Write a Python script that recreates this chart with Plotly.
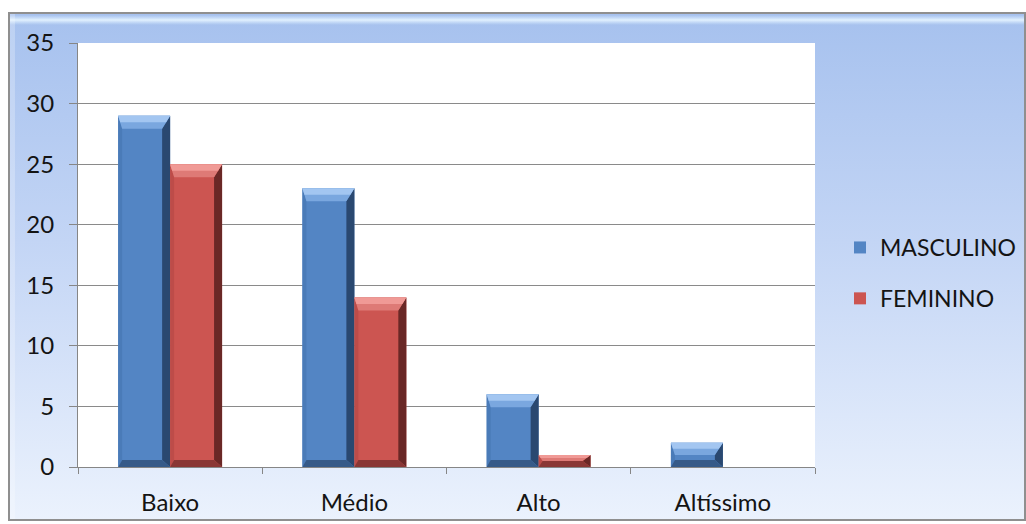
import base64
import plotly.graph_objects as go

# ---- data ----
categories = ["Baixo", "Médio", "Alto", "Altíssimo"]
masculino = [29, 23, 6, 2]
feminino = [25, 14, 1, 0]
series_names = ["MASCULINO", "FEMININO"]

# ---- layout geometry ----
W, H = 1026, 524
M_L, M_R, M_T, M_B = 78, 211, 43, 57
PLOT_W = W - M_L - M_R
PLOT_H = H - M_T - M_B
Y_MAX = 35
BAR_W = 0.282  # width of one bar, in category units
PX_PER_UNIT = PLOT_H / Y_MAX
BAR_PX = BAR_W * PLOT_W / len(categories)

FONT = "Lato"
TXT = "#141414"

styles = {
    "MASCULINO": dict(face="#5385c4", top_out="#a3c6f1", top_in="#7aa7df",
                      left="#4a7bb8", right="#2a4870", bottom="#365a88"),
    "FEMININO": dict(face="#cc5551", top_out="#f09a96", top_in="#de7a76",
                     left="#bd4c49", right="#6a2826", bottom="#8a3735"),
}

# background gradient for the chart frame, as an inline SVG
svg = """<svg xmlns='http://www.w3.org/2000/svg' width='1018' height='508' preserveAspectRatio='none'>
<defs><linearGradient id='g' x1='0' y1='0' x2='0' y2='1'>
<stop offset='0' stop-color='#a6c1ee'/>
<stop offset='0.45' stop-color='#c3d5f5'/>
<stop offset='1' stop-color='#ebf2fd'/>
</linearGradient>
<linearGradient id='h' x1='0' y1='0' x2='0' y2='1'>
<stop offset='0' stop-color='#d6eafd' stop-opacity='0.0'/>
<stop offset='0.5' stop-color='#e2f1fe' stop-opacity='1'/>
<stop offset='1' stop-color='#d6eafd' stop-opacity='0.0'/>
</linearGradient></defs>
<rect width='1018' height='508' fill='url(#g)'/>
<rect x='0' y='2' width='1018' height='10' fill='url(#h)'/>
<rect x='0' y='0' width='6' height='508' fill='#ffffff' fill-opacity='0.25'/>
</svg>"""
bg_uri = "data:image/svg+xml;base64," + base64.b64encode(svg.encode()).decode()

FRAME = dict(x0=9, x1=1025, y0=13, y1=520)


def px_x(px):
    return (px - M_L) / PLOT_W


def px_y(py):
    return (H - M_B - py) / PLOT_H


fig = go.Figure()
for name, vals in zip(series_names, [masculino, feminino]):
    fig.add_trace(go.Bar(
        name=name, x=categories, y=vals, width=BAR_W,
        marker=dict(color=styles[name]["face"], line=dict(width=0)),
    ))


def poly(pts):
    return "M " + " L ".join(f"{x:.2f},{y:.2f}" for x, y in pts) + " Z"


shapes = [
    # chart frame border
    dict(type="rect", xref="paper", yref="paper",
         x0=px_x(FRAME["x0"]), x1=px_x(FRAME["x1"]),
         y0=px_y(FRAME["y1"]), y1=px_y(FRAME["y0"]),
         line=dict(color="#8f8f8f", width=2), fillcolor="rgba(0,0,0,0)", layer="below"),
    # white plotting area
    dict(type="rect", xref="paper", yref="paper", x0=0, x1=1, y0=0, y1=1,
         line=dict(width=0), fillcolor="white", layer="below"),
]

# bevelled faces on each bar, placed from the bar's category and value
for s_idx, (name, vals) in enumerate(zip(series_names, [masculino, feminino])):
    st = styles[name]
    offset = (-0.5 + s_idx) * BAR_W
    for c_idx, v in enumerate(vals):
        if v <= 0:
            continue
        hpx = v * PX_PER_UNIT
        hw = BAR_PX / 2
        dt = min(13, hpx / 2)
        db = min(7, hpx / 2)
        dl = 4
        dr = 8
        faces = [
            (poly([(-hw, 0), (-hw + dl, db), (-hw + dl, hpx - dt), (-hw, hpx)]), st["left"]),
            (poly([(hw, 0), (hw - dr, db), (hw - dr, hpx - dt), (hw, hpx)]), st["right"]),
            (poly([(-hw, 0), (hw, 0), (hw - dr, db), (-hw + dl, db)]), st["bottom"]),
            (poly([(-hw, hpx), (hw, hpx), (hw - dr, hpx - dt), (-hw + dl, hpx - dt)]), st["top_in"]),
            (poly([(-hw, hpx), (hw, hpx), (hw - dr * 0.5, hpx - dt * 0.5),
                   (-hw + dl * 0.5, hpx - dt * 0.5)]), st["top_out"]),
        ]
        for path, col in faces:
            shapes.append(dict(
                type="path", xref="x", yref="y",
                xsizemode="pixel", ysizemode="pixel",
                xanchor=c_idx + offset, yanchor=0,
                path=path, fillcolor=col, line=dict(width=0), layer="above",
            ))

fig.update_layout(
    width=W, height=H,
    margin=dict(l=M_L, r=M_R, t=M_T, b=M_B, pad=0, autoexpand=False),
    paper_bgcolor="white",
    plot_bgcolor="white",
    barmode="group",
    bargap=1 - 2 * BAR_W,
    bargroupgap=0,
    font=dict(family=FONT, size=24, color=TXT),
    showlegend=True,
    legend=dict(
        x=px_x(840), xanchor="left",
        y=px_y(273), yanchor="middle",
        bgcolor="rgba(0,0,0,0)",
        font=dict(family=FONT, size=23, color=TXT),
        traceorder="grouped",
        tracegroupgap=18,
        itemwidth=30,
    ),
    images=[dict(
        source=bg_uri, xref="paper", yref="paper",
        x=px_x(FRAME["x0"]), y=px_y(FRAME["y0"]),
        sizex=(FRAME["x1"] - FRAME["x0"]) / PLOT_W,
        sizey=(FRAME["y1"] - FRAME["y0"]) / PLOT_H,
        xanchor="left", yanchor="top", sizing="stretch", layer="below",
    )],
    shapes=shapes,
    xaxis=dict(
        type="category", range=[-0.5, len(categories) - 0.5],
        showline=True, linecolor="#868686", linewidth=1,
        ticks="outside", tickson="boundaries", ticklen=6, tickcolor="#868686",
        showgrid=False, ticklabelstandoff=14, automargin=False,
        tickfont=dict(family=FONT, size=24, color=TXT),
    ),
    yaxis=dict(
        range=[0, Y_MAX], dtick=5, tick0=0,
        showline=True, linecolor="#868686", linewidth=1,
        ticks="outside", ticklen=8, tickcolor="#868686",
        showgrid=True, gridcolor="#8a8a8a", gridwidth=1,
        zeroline=False, ticklabelstandoff=10, automargin=False,
        tickfont=dict(family=FONT, size=24, color=TXT),
    ),
)

# give each series its own legend group so the group gap spaces the entries
for i, tr in enumerate(fig.data):
    tr.legendgroup = f"g{i}"

fig.write_html("out.html")
